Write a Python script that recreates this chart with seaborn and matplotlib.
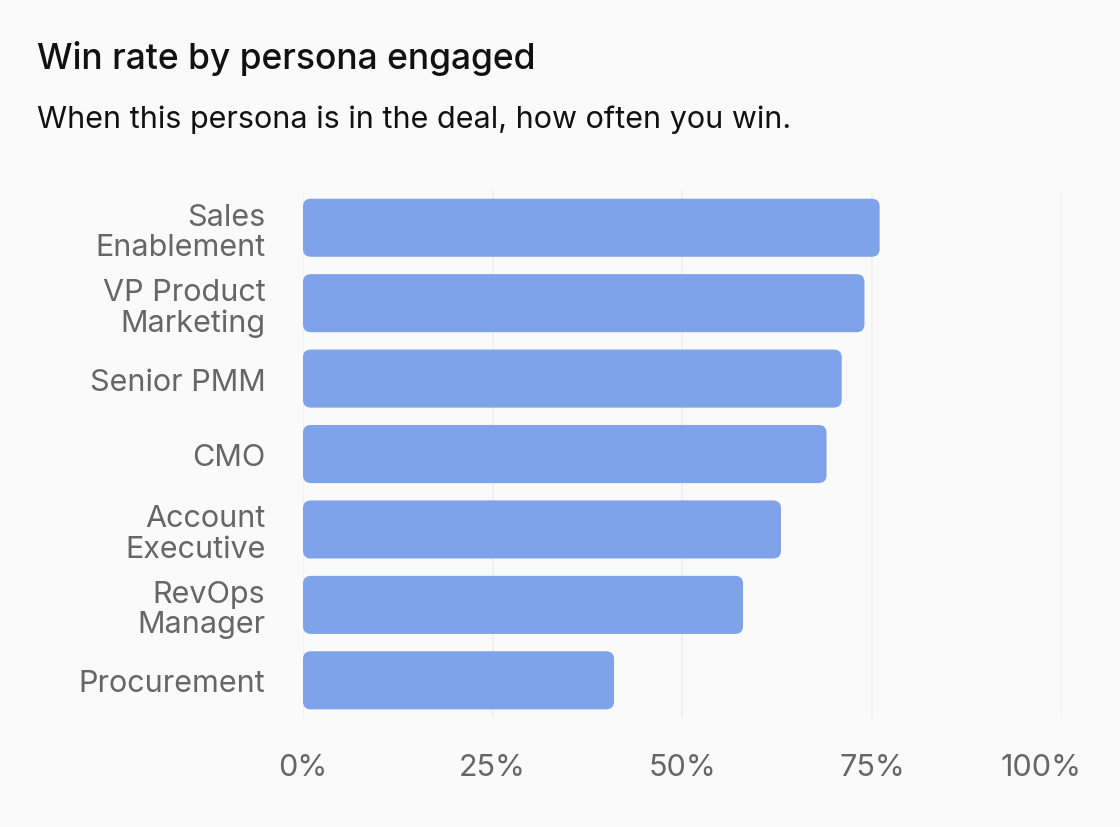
import matplotlib
matplotlib.use("Agg")
import matplotlib.pyplot as plt
import matplotlib.transforms as mtransforms
import seaborn as sns
import pandas as pd
from matplotlib.patches import FancyBboxPatch
from matplotlib.ticker import PercentFormatter

# data
personas = ["Sales\nEnablement", "VP Product\nMarketing", "Senior PMM", "CMO",
            "Account\nExecutive", "RevOps\nManager", "Procurement"]
win_rate = [76, 74, 71, 69, 63, 58, 41]
x_ticks = [0, 25, 50, 75, 100]

BG = "#fafafa"
BAR = "#7fa3ea"

sns.set_theme(style="white")
plt.rcParams["font.family"] = ["Inter", "DejaVu Sans"]

df = pd.DataFrame({"persona": personas, "win_rate": win_rate})

fig = plt.figure(figsize=(11.2, 8.28), dpi=100, facecolor=BG)
ax = fig.add_axes([0.2705, 0.1316, 0.6775, 0.6377])
ax.set_facecolor(BG)

sns.barplot(data=df, x="win_rate", y="persona", color=BAR, width=0.77,
            saturation=1, ax=ax, zorder=3)

# swap plain bars for rounded ones
for p in list(ax.patches):
    x, y = p.get_x(), p.get_y()
    w, h = p.get_width(), p.get_height()
    p.remove()
    ax.add_patch(FancyBboxPatch((x, y), w, h,
                                boxstyle="round,pad=0,rounding_size=1.05",
                                mutation_aspect=0.1, facecolor=BAR,
                                edgecolor="none", zorder=3))

ax.set_xlim(0, 100)
ax.set_ylim(6.5, -0.5)
ax.set_xticks(x_ticks)
ax.xaxis.set_major_formatter(PercentFormatter(100, decimals=0))
ax.grid(axis="x", color="#efefef", linewidth=1.2, zorder=0)
ax.set_axisbelow(True)
sns.despine(ax=ax, left=True, bottom=True)
ax.set_xlabel("")
ax.set_ylabel("")
ax.tick_params(axis="both", length=0, labelsize=22, labelcolor="#666666")
ax.tick_params(axis="x", pad=25)
ax.tick_params(axis="y", pad=27)
for lbl in ax.get_yticklabels():
    lbl.set_linespacing(1.1)

# last x label is pulled in a bit, as in the reference
last = ax.get_xticklabels()[-1]
last.set_transform(last.get_transform() +
                   mtransforms.ScaledTranslation(-0.21, 0, fig.dpi_scale_trans))

fig.text(0.033, 0.917, "Win rate by persona engaged", fontsize=25.5,
         fontweight="medium", color="#111111", va="baseline")
fig.text(0.033, 0.845, "When this persona is in the deal, how often you win.",
         fontsize=22, color="#111111", va="baseline")

fig.savefig("out.png", dpi=100, facecolor=BG)
